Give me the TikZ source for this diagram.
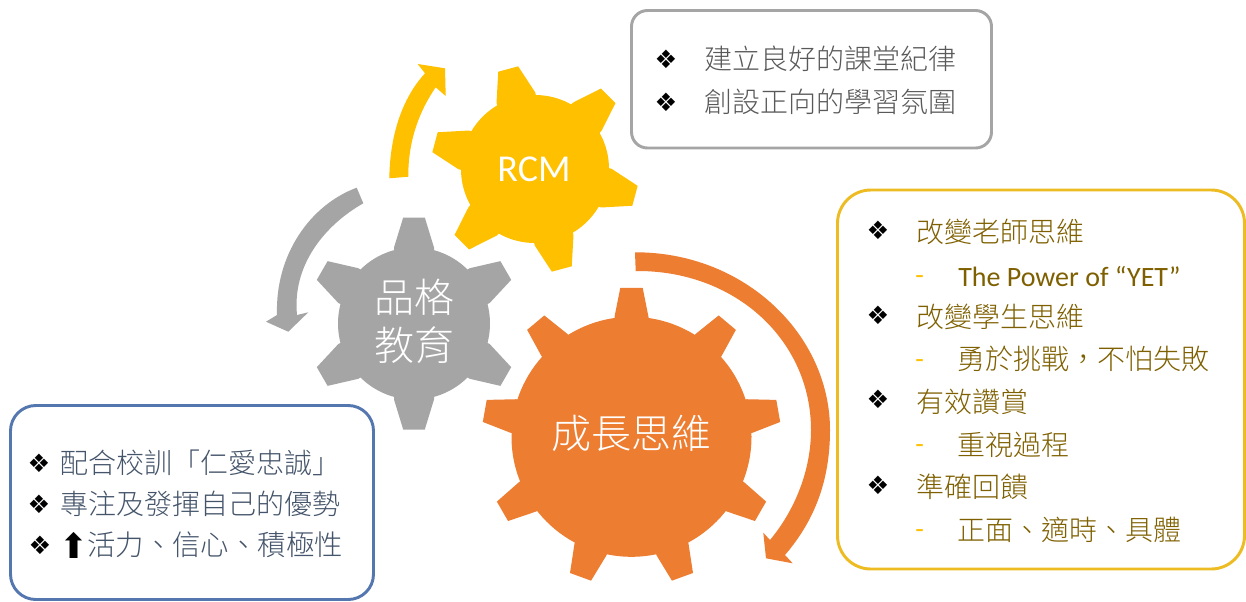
\documentclass[tikz,border=0pt]{standalone}
\usepackage{fontspec}
\setmainfont{Carlito}
\newfontfamily\cjk{Noto Sans CJK TC Light}
\newfontfamily\djv{DejaVu Sans}
\definecolor{gy}{HTML}{A5A5A5}
\definecolor{yl}{HTML}{FFC000}
\definecolor{og}{HTML}{ED7D31}
\definecolor{bl}{HTML}{5577B0}
\definecolor{ybox}{HTML}{EDBB22}
\definecolor{olive}{HTML}{7F6000}
\definecolor{gtxt}{HTML}{595959}
\definecolor{btxt}{HTML}{44546A}
\tikzset{
  x=0.75pt,y=-0.75pt,
  panel/.style={rounded corners=#1,line width=2.2pt,fill=white},
  txt/.style={anchor=west,inner sep=0pt,font=\cjk\fontsize{21}{25}\selectfont},
  bul/.style={anchor=center,inner sep=0pt,font=\djv\fontsize{19}{22}\selectfont,text=black},
  dashmark/.style={anchor=west,inner sep=0pt,text=yl,font=\fontsize{21}{25}\selectfont},
  geartext/.style={anchor=center,inner sep=0pt,text=white,align=center},
}
\newcommand{\gearshape}[8]{% colour,cx,cy,r,R,base,tip,angles
  \begin{scope}[shift={(#2,#3)}]
    \fill[#1] (0,0) circle[radius=#4];
    \foreach \a in {#8}{
      \fill[#1,rotate=\a] (#4-8,-#6) -- (#4,-#6) -- (#5,-#7) -- (#5,#7) -- (#4,#6) -- (#4-8,#6) -- cycle;
    }
  \end{scope}}
\begin{document}
\begin{tikzpicture}
\useasboundingbox (0,0) rectangle (1246,601);
\fill[white] (0,0) rectangle (1246,601);
% panels
\draw[panel=12pt,draw=gy] (631.5,10.5) rectangle (991.5,148);
\draw[panel=19pt,draw=bl] (10.5,405.5) rectangle (373.5,599.5);
\draw[panel=25pt,draw=ybox] (837.5,190) rectangle (1244.5,569);
% gears
\gearshape{gy}{414}{323.5}{76}{106}{20}{10.8}{90,30,-30,-90,-150,150}
\gearshape{yl}{535}{169}{74}{103.5}{20}{10.3}{105,45,-15,-75,-135,165}
\gearshape{og}{631.5}{436.8}{120}{149}{17}{11.2}{90,50,10,-30,-70,-110,-150,170,130}
% curved arrows
\fill[yl] (389.3,178.3) .. controls (390,130) and (405,95) .. (425,73.3)
  -- (417.7,64) -- (445,68.3) -- (445.7,96) -- (435.7,87.3)
  .. controls (420,110) and (408,140) .. (408.3,176.7) -- cycle;
\fill[gy] (356.7,187.7) .. controls (310,205) and (275,255) .. (277,315)
  -- (266,321.7) -- (288.3,331.7) -- (308.3,312.3) -- (297,315)
  .. controls (292,265) and (325,225) .. (363.3,203.3) -- cycle;
\fill[og] (635,252.3) .. controls (745,252) and (830,335) .. (830,430)
  .. controls (830,480) and (815,520) .. (785,555)
  -- (792.7,563.3) -- (766,558.3) -- (763.3,532.7) -- (770,540)
  .. controls (795,510) and (811,470) .. (811,430)
  .. controls (811,340) and (735,270) .. (635.7,271) -- cycle;
% gear labels
\node[geartext,font=\fontsize{28.5}{30}\selectfont] (rcm) at (534,169) {RCM};
\node[geartext,font=\cjk\fontsize{30}{36}\selectfont] (pin) at (414,321) {品格\\[0pt]教育};
\node[geartext,font=\cjk\fontsize{30}{36}\selectfont] (cheng) at (631,433) {成長思維};
% grey panel text
\node[bul] (ga) at (666,59) {❖};
\node[bul] (gb) at (666,102) {❖};
\node[txt,text=gtxt] (ga1) at (704,59) {建立良好的課堂紀律};
\node[txt,text=gtxt] (gb1) at (704,102) {創設正向的學習氛圍};
% blue panel text
\node[bul] (ba) at (39,463) {❖};
\node[bul] (bb) at (39,504) {❖};
\node[bul] (bc) at (40,545) {❖};
\node[txt,text=btxt] (ba1) at (60,463) {配合校訓「仁愛忠誠」};
\node[txt,text=btxt] (bb1) at (60,504) {專注及發揮自己的優勢};
\node[anchor=center,inner sep=0pt,text=black,font=\djv\fontsize{26}{30}\selectfont] (bc0) at (74,545) {⬆};
\node[txt,text=btxt,font=\cjk\fontsize{21.3}{25}\selectfont] (bc1) at (87,545) {活力、信心、積極性};
% yellow panel text
\node[bul] (ya) at (878,230) {❖};
\node[bul] (yb) at (878,315) {❖};
\node[bul] (yc) at (878,399) {❖};
\node[bul] (yd) at (878,485) {❖};
\node[txt,text=olive] (ya1) at (916,232) {改變老師思維};
\node[txt,text=olive] (yb1) at (916,317) {改變學生思維};
\node[txt,text=olive] (yc1) at (916,402) {有效讚賞};
\node[txt,text=olive] (yd1) at (916,487) {準確回饋};
\node[dashmark] (ya2) at (915,280) {-};
\node[dashmark] (yb2) at (915,364) {-};
\node[dashmark] (yc2) at (915,449) {-};
\node[dashmark] (yd2) at (915,534) {-};
\node[anchor=west,inner sep=0pt,text=olive,font=\fontsize{21}{25}\selectfont] (ya3) at (958,276) {The Power of “YET”};
\node[txt,text=olive] (yb3) at (957,359) {勇於挑戰，不怕失敗};
\node[txt,text=olive] (yc3) at (957,445) {重視過程};
\node[txt,text=olive] (yd3) at (957,530) {正面、適時、具體};
\end{tikzpicture}
\end{document}
